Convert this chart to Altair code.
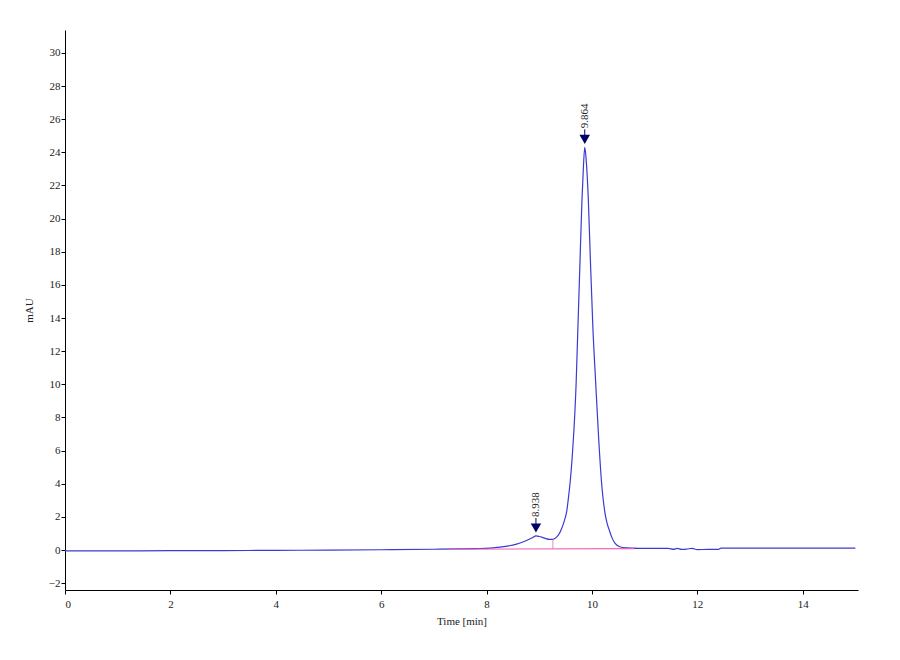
import altair as alt
import pandas as pd

# Chromatogram trace (time in min, signal in mAU)
time_min = [0.0, 1.0, 2.0, 3.0, 4.0, 5.0, 6.0, 7.0, 7.5, 7.8, 8.06, 8.2, 8.4, 8.57,
            8.7, 8.8, 8.88, 8.938, 9.0, 9.1, 9.2, 9.26, 9.33, 9.38, 9.42, 9.47,
            9.52, 9.56, 9.59, 9.63, 9.66, 9.70, 9.73, 9.77, 9.81, 9.84, 9.864,
            9.89, 9.93, 9.97, 10.02, 10.07, 10.12, 10.18,
            10.25, 10.29, 10.33, 10.38, 10.44, 10.53, 10.65, 10.9, 11.2, 11.45,
            11.55, 11.62, 11.7, 11.8, 11.9, 12.0, 12.2, 12.4, 12.45, 13.0, 14.0, 15.0]
signal_mau = [-0.05, -0.05, -0.04, -0.03, -0.02, 0.0, 0.02, 0.05, 0.07, 0.09, 0.12, 0.16, 0.24, 0.36,
              0.5, 0.64, 0.76, 0.85, 0.82, 0.72, 0.64, 0.64, 0.78, 0.98, 1.25, 1.7,
              2.3, 3.3, 4.2, 5.8, 7.3, 10.0, 13.0, 17.0, 21.0, 23.2, 24.3,
              23.6, 21.3, 17.6, 13.3, 10.2, 7.2, 4.2,
              2.2, 1.6, 1.2, 0.75, 0.4, 0.2, 0.13, 0.1, 0.1, 0.1,
              0.04, 0.1, 0.04, 0.06, 0.1, 0.03, 0.04, 0.04, 0.12, 0.12, 0.12, 0.12]

# Integration baseline and peak split
baseline_t = [7.3, 10.8]
baseline_v = [0.05, 0.09]
split_t = [9.26]
split_lo = [0.07]
split_hi = [0.64]

# Peak annotations
peak_rt = [8.938, 9.864]
peak_h = [0.85, 24.3]
peak_lbl = ["8.938", "9.864"]

y_ticks = list(range(-2, 31, 2))
x_ticks = list(range(0, 15, 2))

trace = pd.DataFrame({"t": time_min, "v": signal_mau})
base = pd.DataFrame({"t": baseline_t, "v": baseline_v})
split = pd.DataFrame({"t": split_t, "v": split_lo, "v2": split_hi})
peaks = pd.DataFrame({"t": peak_rt, "v": peak_h, "label": peak_lbl})

FONT = "Liberation Serif"
xs = alt.Scale(domain=[0, 15.05], nice=False)
ys = alt.Scale(domain=[-2.41, 31.38], nice=False)

x_axis = alt.Axis(values=x_ticks, title="Time [min]", grid=False, domainColor="#000",
                  tickColor="#000", labelColor="#222", titleColor="#222", labelFont=FONT,
                  titleFont=FONT, labelFontSize=11, titleFontSize=11, titleFontWeight="normal",
                  tickSize=4, labelPadding=4, titlePadding=6, labelOverlap=False)
y_axis = alt.Axis(values=y_ticks, title="mAU", grid=False, domainColor="#000",
                  tickColor="#000", labelColor="#222", titleColor="#222", labelFont=FONT,
                  titleFont=FONT, labelFontSize=11, titleFontSize=11, titleFontWeight="normal",
                  tickSize=4, labelPadding=1, titlePadding=14, labelOverlap=False)

X = alt.X("t:Q", scale=xs, axis=x_axis)
Y = alt.Y("v:Q", scale=ys, axis=y_axis)

line = alt.Chart(trace).mark_line(color="#3b3bd0", strokeWidth=1.2, interpolate="monotone").encode(
    x=X, y=Y)

bl = alt.Chart(base).mark_line(color="#f060b8", strokeWidth=1.2).encode(x=X, y=Y)

sp = alt.Chart(split).mark_rule(color="#e070b0", strokeWidth=0.8).encode(x=X, y=Y, y2="v2:Q")

stem = alt.Chart(peaks).mark_rule(color="#000066", strokeWidth=1, yOffset=-18, y2Offset=-10).encode(
    x=X, y=Y, y2="v:Q")

tri = alt.Chart(peaks).mark_point(shape="triangle-down", filled=True, color="#000066",
                                  opacity=1, size=110, yOffset=-8).encode(x=X, y=Y)

txt = alt.Chart(peaks).mark_text(angle=270, align="left", baseline="middle", font=FONT,
                                 fontSize=11, color="#222", yOffset=-19).encode(
    x=X, y=Y, text="label:N")

chart = alt.layer(line, bl, sp, stem, tri, txt).properties(
    width=793, height=560,
    background="white",
    autosize=alt.AutoSizeParams(type="none"),
    padding={"left": 57, "top": 22, "right": 34, "bottom": 60},
).configure_view(stroke=None).configure_axis(labelOverlap=False)

chart.save("out.html", embed_options={"renderer": "svg", "actions": False})
